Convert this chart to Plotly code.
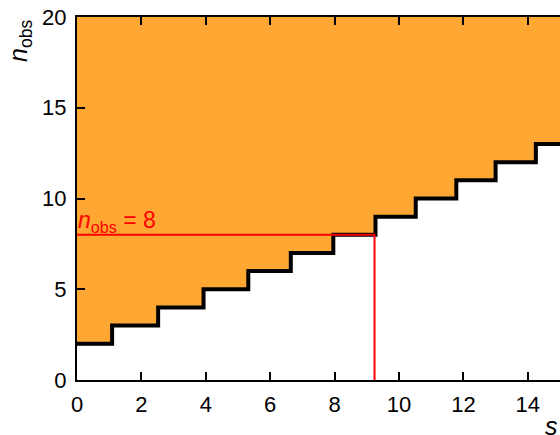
import plotly.graph_objects as go

# Lower edge of the acceptance belt: n_obs level and the signal s where it starts
belt_s_start = [0.0, 1.09, 2.52, 3.93, 5.32, 6.64, 7.96, 9.27, 10.52, 11.78, 13.0, 14.25]
belt_n = [2, 3, 4, 5, 6, 7, 8, 9, 10, 11, 12, 13]

s_max = 15.0
n_max = 20

# Observed count and the corresponding upper limit on s
n_obs = 8
s_upper = 9.24

x_ticks = [0, 2, 4, 6, 8, 10, 12, 14]
y_ticks = [0, 5, 10, 15, 20]

FONT = "Liberation Sans, Arial, Helvetica, sans-serif"
ORANGE = "#fea833"

step_x = belt_s_start + [s_max]
step_y = belt_n + [belt_n[-1]]

fig = go.Figure()

# Shaded region above the belt edge
fig.add_trace(go.Scatter(
    x=step_x + [s_max, 0],
    y=step_y + [n_max, n_max],
    mode="lines", line=dict(shape="hv", width=0, color=ORANGE),
    fill="toself", fillcolor=ORANGE, hoverinfo="skip", showlegend=False,
))

# Belt edge
fig.add_trace(go.Scatter(
    x=step_x, y=step_y, mode="lines",
    line=dict(shape="hv", width=4, color="black"),
    showlegend=False,
))

# n_obs line and the resulting upper limit
fig.add_trace(go.Scatter(
    x=[0, s_upper, s_upper], y=[n_obs, n_obs, 0], mode="lines",
    line=dict(width=2, color="#ff0000"), showlegend=False,
))

fig.add_annotation(
    x=0, y=n_obs, xref="x", yref="y", xanchor="left", yanchor="bottom",
    text="<i>n</i><sub>obs</sub> = 8", showarrow=False, yshift=-3, xshift=-1,
    font=dict(family=FONT, size=23, color="#ff0000"),
)

# Axis titles
fig.add_annotation(
    x=-0.118, y=0.934, xref="paper", yref="paper", xanchor="center", yanchor="middle",
    text="<i>n</i><sub>obs</sub>", textangle=-90, showarrow=False,
    font=dict(family=FONT, size=25, color="black"),
)
fig.add_annotation(
    x=1, y=-0.127, xref="paper", yref="paper", xanchor="right", yanchor="middle",
    text="<i>s</i>", showarrow=False,
    font=dict(family=FONT, size=25, color="black"),
)

axis_common = dict(
    showgrid=False, zeroline=False, ticks="inside", ticklen=8, tickwidth=1.5,
    tickcolor="black", tickfont=dict(family=FONT, size=22, color="black"),
)

fig.update_layout(
    width=560, height=435,
    margin=dict(l=77, r=0, t=17, b=55),
    plot_bgcolor="white", paper_bgcolor="white",
    xaxis=dict(range=[0, s_max], tickvals=x_ticks, showline=True, linewidth=2,
               linecolor="black", mirror="ticks", ticklabelstandoff=4, **axis_common),
    yaxis=dict(range=[0, n_max], tickvals=y_ticks, showline=True, linewidth=2,
               linecolor="black", ticklabelstandoff=4, **axis_common),
    yaxis2=dict(range=[0, n_max], tickvals=y_ticks, overlaying="y", side="right",
                anchor="x", showline=False, showticklabels=False, **axis_common),
)

fig.write_html("out.html")
